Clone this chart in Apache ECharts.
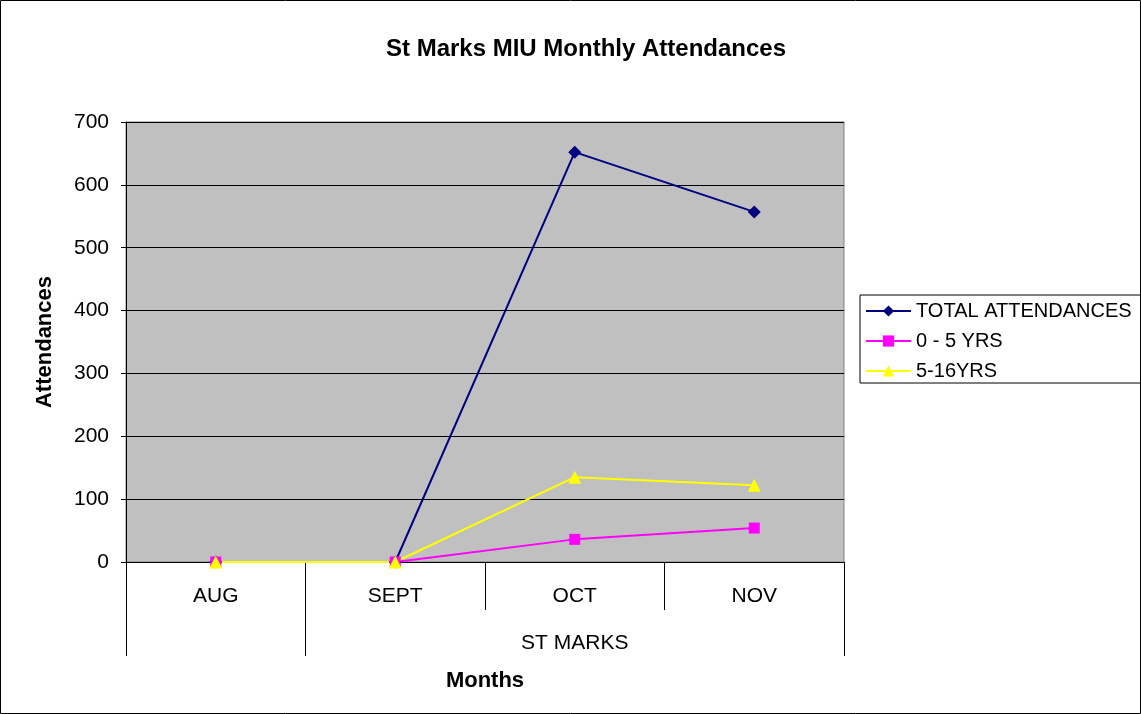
<!DOCTYPE html>
<html>
<head>
<meta charset="utf-8">
<script src="https://cdn.jsdelivr.net/npm/echarts@6/dist/echarts.min.js"></script>
<style>
  html, body { margin: 0; padding: 0; background: #fff; }
  #chart { width: 1141px; height: 714px; }
</style>
</head>
<body>
<div id="chart"></div>
<script>
var months = ['AUG', 'SEPT', 'OCT', 'NOV'];
var groupLabels = ['ST MARKS'];
var totalAtt = [0, 0, 652, 557];
var age0to5 = [0, 0, 36, 54];
var age5to16 = [0, 0, 135, 122];
var yTicks = [0, 100, 200, 300, 400, 500, 600, 700];

var font = 'Liberation Sans, Arial, sans-serif';

var chart = echarts.init(document.getElementById('chart'));

chart.setOption({
  animation: false,
  textStyle: { fontFamily: font },
  title: {
    text: 'St Marks MIU Monthly Attendances',
    left: 581,
    top: 32,
    textAlign: 'center',
    textStyle: { fontSize: 24, fontWeight: 'bold', color: '#000', fontFamily: font }
  },
  graphic: [{
    type: 'rect',
    shape: { x: 0.5, y: 0.5, width: 1140, height: 713 },
    style: { fill: 'none', stroke: '#000', lineWidth: 1 },
    silent: true
  }],
  legend: {
    left: 860,
    top: 295,
    orient: 'vertical',
    padding: [6, 10, 2, 5],
    itemGap: 10,
    itemWidth: 45,
    itemHeight: 14,
    borderColor: '#000',
    borderWidth: 1,
    textStyle: { fontSize: 20, lineHeight: 20, color: '#000', fontFamily: font, padding: [0, 0, 0, 0] },
    data: ['TOTAL ATTENDANCES', '0 - 5 YRS', '5-16YRS']
  },
  grid: {
    left: 126,
    right: 297,
    top: 122,
    bottom: 152,
    show: true,
    backgroundColor: '#C0C0C0',
    borderColor: '#808080',
    borderWidth: 1
  },
  xAxis: [
    {
      type: 'category',
      data: months,
      boundaryGap: true,
      name: 'Months',
      nameLocation: 'middle',
      nameGap: 119,
      nameTextStyle: { fontSize: 22, fontWeight: 'bold', color: '#000', verticalAlign: 'middle' },
      axisLine: { lineStyle: { color: '#000', width: 1 } },
      axisTick: { show: true, length: 48, lineStyle: { color: '#000' }, alignWithLabel: false },
      axisLabel: { fontSize: 21, color: '#000', margin: 24 },
      splitLine: { show: false }
    },
    {
      type: 'value',
      position: 'bottom',
      min: 0,
      max: 4,
      axisLine: { show: true, lineStyle: { color: '#000', width: 1 } },
      axisTick: { show: true, length: 94, customValues: [0, 1, 4], lineStyle: { color: '#000' } },
      axisLabel: {
        show: true,
        customValues: [2.5],
        fontSize: 21,
        color: '#000',
        margin: 71,
        formatter: function () { return groupLabels[0]; }
      },
      splitLine: { show: false }
    }
  ],
  yAxis: {
    type: 'value',
    min: yTicks[0],
    max: yTicks[yTicks.length - 1],
    interval: 100,
    name: 'Attendances',
    nameLocation: 'middle',
    nameGap: 70,
    nameTextStyle: { fontSize: 22, fontWeight: 'bold', color: '#000' },
    axisLine: { show: true, lineStyle: { color: '#000', width: 1 } },
    axisTick: { show: true, length: 5, lineStyle: { color: '#000' } },
    axisLabel: { fontSize: 21, color: '#000', margin: 17 },
    splitLine: { show: true, lineStyle: { color: '#000', width: 1 } }
  },
  series: [
    {
      name: 'TOTAL ATTENDANCES',
      type: 'line',
      data: totalAtt,
      symbol: 'diamond',
      symbolSize: 13,
      lineStyle: { color: '#000080', width: 2 },
      itemStyle: { color: '#000080' }
    },
    {
      name: '0 - 5 YRS',
      type: 'line',
      data: age0to5,
      symbol: 'rect',
      symbolSize: 11,
      lineStyle: { color: '#FF00FF', width: 2 },
      itemStyle: { color: '#FF00FF' }
    },
    {
      name: '5-16YRS',
      type: 'line',
      data: age5to16,
      symbol: 'triangle',
      symbolSize: 13,
      lineStyle: { color: '#FFFF00', width: 2 },
      itemStyle: { color: '#FFFF00' }
    }
  ]
});
</script>
</body>
</html>
